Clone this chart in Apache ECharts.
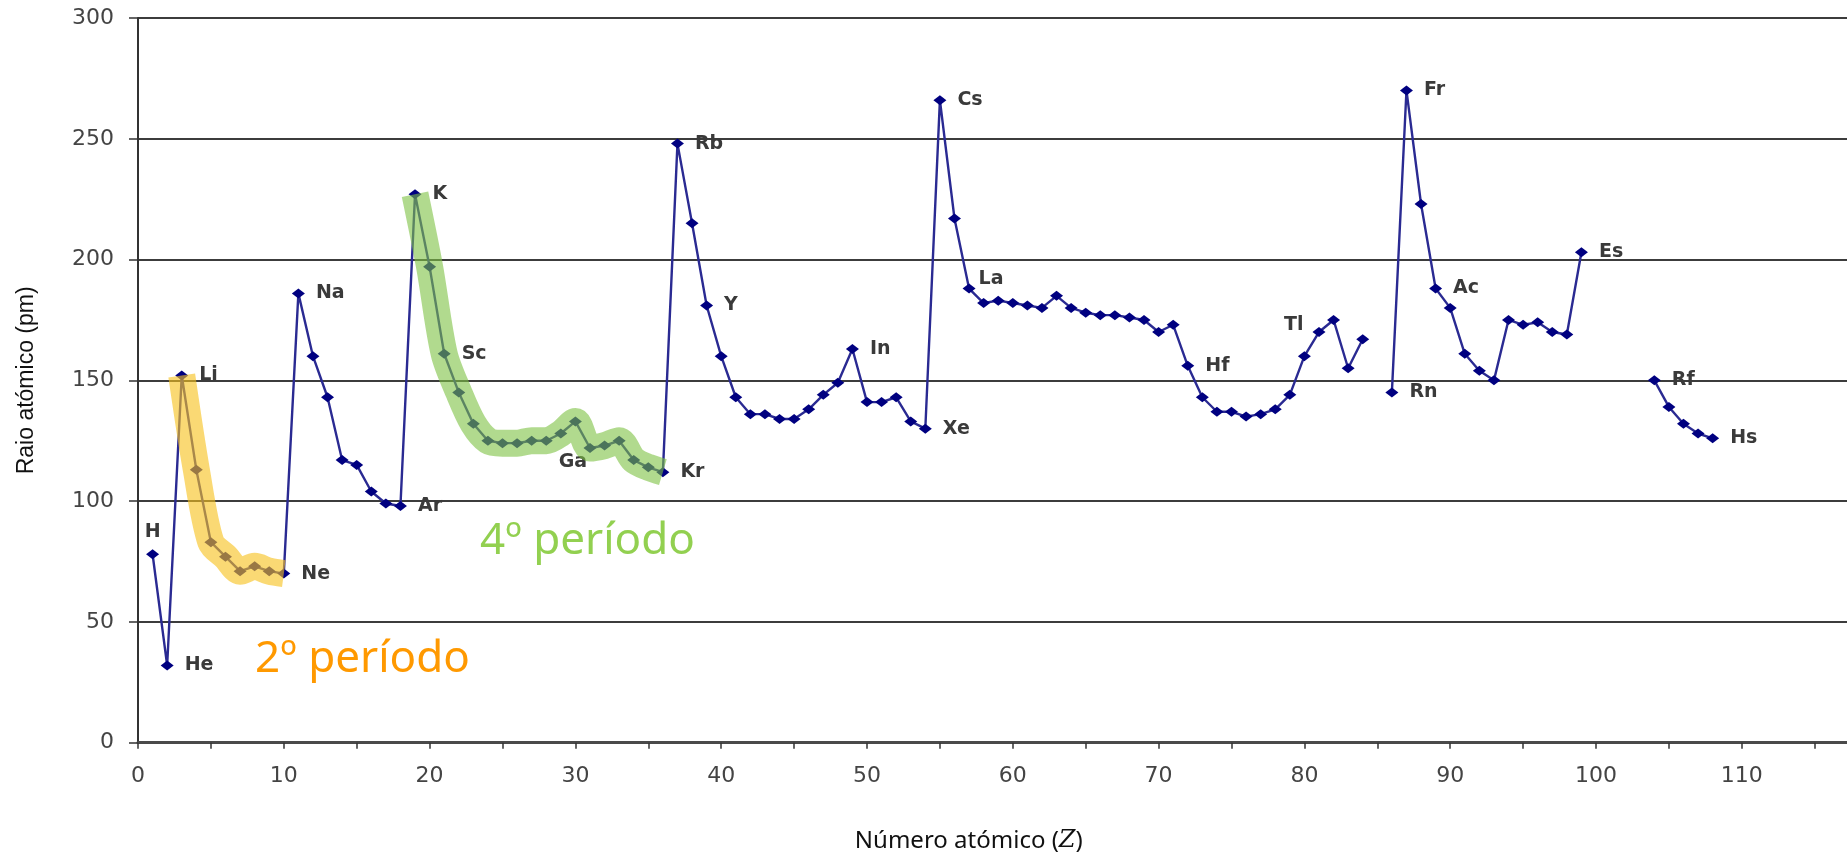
<!DOCTYPE html>
<html>
<head>
<meta charset="utf-8">
<title>Raio atómico</title>
<script src="https://cdn.jsdelivr.net/npm/echarts@6/dist/echarts.min.js"></script>
<style>
  html, body { margin: 0; padding: 0; background: #fff; }
  #main { width: 1847px; height: 856px; }
</style>
</head>
<body>
<div id="main"></div>
<script>
// element symbols, Z = 1..108
const symbols = [
  "H", "He", "Li", "Be", "B", "C", "N", "O", "F", "Ne",
  "Na", "Mg", "Al", "Si", "P", "S", "Cl", "Ar",
  "K", "Ca", "Sc", "Ti", "V", "Cr", "Mn", "Fe", "Co", "Ni", "Cu", "Zn", "Ga", "Ge", "As", "Se", "Br", "Kr",
  "Rb", "Sr", "Y", "Zr", "Nb", "Mo", "Tc", "Ru", "Rh", "Pd", "Ag", "Cd", "In", "Sn", "Sb", "Te", "I", "Xe",
  "Cs", "Ba", "La", "Ce", "Pr", "Nd", "Pm", "Sm", "Eu", "Gd", "Tb", "Dy", "Ho", "Er", "Tm", "Yb", "Lu",
  "Hf", "Ta", "W", "Re", "Os", "Ir", "Pt", "Au", "Hg", "Tl", "Pb", "Bi", "Po", "At", "Rn",
  "Fr", "Ra", "Ac", "Th", "Pa", "U", "Np", "Pu", "Am", "Cm", "Bk", "Cf", "Es", "Fm", "Md", "No", "Lr",
  "Rf", "Db", "Sg", "Bh", "Hs"
];

// atomic radius (pm), null = no value in the chart
const radius = [
  78, 32, 152, 113, 83, 77, 71, 73, 71, 70,
  186, 160, 143, 117, 115, 104, 99, 98,
  227, 197, 161, 145, 132, 125, 124, 124, 125, 125, 128, 133, 122, 123, 125, 117, 114, 112,
  248, 215, 181, 160, 143, 136, 136, 134, 134, 138, 144, 149, 163, 141, 141, 143, 133, 130,
  266, 217, 188, 182, 183, 182, 181, 180, 185, 180, 178, 177, 177, 176, 175, 170, 173,
  156, 143, 137, 137, 135, 136, 138, 144, 160, 170, 175, 155, 167, null, 145,
  270, 223, 188, 180, 161, 154, 150, 175, 173, 174, 170, 169, 203, null, null, null, null,
  150, 139, 132, 128, 126
];

// elements that carry a name label
const labelled = ["H", "He", "Li", "Ne", "Na", "Ar", "K", "Sc", "Ga", "Kr", "Rb", "Y", "In", "Xe",
  "Cs", "La", "Hf", "Tl", "Rn", "Fr", "Ac", "Es", "Rf", "Hs"];

// highlighted periods (Z range)
const period2 = [3, 10];
const period4 = [19, 36];

const xTicks = [0, 120, 5];
const yTicks = [0, 300, 50];

// label placement (style only)
const labelPos = {
  H: { position: "top", distance: 8 },
  Ga: { position: "bottom", distance: 0, offset: [-17, 0] },
  La: { position: "right", distance: 3, offset: [0, -9] },
  Tl: { position: "left", distance: 9, offset: [0, -7] }
};

let mainData = symbols.map((s, i) => {
  let item = { name: s, value: [i + 1, radius[i] == null ? "-" : radius[i]] };
  if (labelled.includes(s)) {
    item.label = Object.assign({ show: true, position: "right", distance: 11 }, labelPos[s] || {});
  }
  return item;
});

function slicePeriod(p) {
  let out = [];
  for (let z = p[0]; z <= p[1]; z++) out.push([z, radius[z - 1]]);
  return out;
}

let myChart = echarts.init(document.getElementById("main"));

let option = {
  animation: false,
  backgroundColor: "#fff",
  grid: {
    left: 138,
    top: 18,
    width: 1749.6,
    height: 724.7,
    containLabel: false,
    outerBoundsMode: "none"
  },
  xAxis: {
    type: "value",
    min: xTicks[0],
    max: xTicks[1],
    interval: xTicks[2],
    name: "Número atómico ({z|Z})",
    nameLocation: "middle",
    nameGap: 86,
    nameTextStyle: {
      fontFamily: "Noto Sans",
      fontSize: 24,
      color: "#111",
      padding: [0, 88, 0, 0],
      rich: {
        z: { fontFamily: "DejaVu Serif", fontStyle: "italic", fontSize: 24, color: "#111" }
      }
    },
    axisLine: { lineStyle: { color: "#4a4a4a", width: 3 } },
    axisTick: { length: 6, lineStyle: { color: "#333", width: 1.5 } },
    axisLabel: {
      margin: 23,
      fontFamily: "DejaVu Sans",
      fontSize: 22,
      color: "#444",
      formatter: (v) => (v % 10 === 0 ? v : "")
    },
    splitLine: { show: false }
  },
  yAxis: {
    type: "value",
    min: yTicks[0],
    max: yTicks[1],
    interval: yTicks[2],
    name: "Raio atómico (pm)",
    nameLocation: "middle",
    nameGap: 100,
    nameRotate: 90,
    nameTextStyle: { fontFamily: "Liberation Sans", fontSize: 23, color: "#111" },
    axisLine: { show: true, lineStyle: { color: "#333", width: 2 } },
    axisTick: { show: true, length: 9, lineStyle: { color: "#333", width: 1.5 } },
    axisLabel: { margin: 24, fontFamily: "DejaVu Sans", fontSize: 22, color: "#444" },
    splitLine: { show: true, lineStyle: { color: "#3c3c3c", width: 2 } }
  },
  series: [
    {
      type: "line",
      data: mainData,
      connectNulls: false,
      symbol: "diamond",
      symbolSize: [13, 10],
      itemStyle: { color: "#000080" },
      lineStyle: { color: "#2a2a92", width: 2.4 },
      label: {
        show: false,
        formatter: "{b}",
        fontFamily: "DejaVu Sans",
        fontWeight: "bold",
        fontSize: 19,
        color: "#3a3a3a"
      },
      z: 2
    },
    {
      type: "line",
      data: slicePeriod(period2),
      symbol: "none",
      smooth: 0.3,
      silent: true,
      lineStyle: { color: "#F7C21E", opacity: 0.62, width: 27, cap: "butt", join: "round" },
      z: 3
    },
    {
      type: "line",
      data: slicePeriod(period4),
      symbol: "none",
      smooth: 0.3,
      silent: true,
      lineStyle: { color: "#7DC142", opacity: 0.6, width: 27, cap: "butt", join: "round" },
      z: 3
    }
  ],
  graphic: [
    {
      type: "text",
      x: 255,
      y: 659,
      style: { text: "2º período", fill: "#FF9900", font: '44px "Noto Sans"', verticalAlign: "middle" }
    },
    {
      type: "text",
      x: 480,
      y: 541,
      style: { text: "4º período", fill: "#92D050", font: '44px "Noto Sans"', verticalAlign: "middle" }
    }
  ]
};

myChart.setOption(option);
</script>
</body>
</html>
